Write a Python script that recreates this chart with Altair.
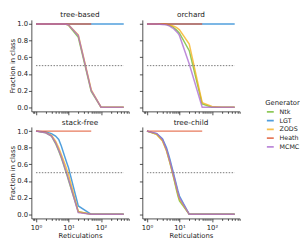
import altair as alt
import pandas as pd

# ---------------- data ----------------
x_vals = [1, 2, 3, 4, 5, 6, 7, 8, 9, 10, 20, 50, 100, 200, 500]
generators = ["Ntk", "LGT", "ZODS", "Heath", "MCMC"]
colors = ["#6fba2c", "#1f84d4", "#f5b01a", "#e0552e", "#ab6bd0"]
panels = ["tree-based", "orchard", "stack-free", "tree-child"]

tb_ntk = [1, 1, 1, 1, 1, 1, 1, 1, 0.995, 0.985, 0.84, 0.19, 0, 0, 0]
tb_lgt = [1, 1, 1, 1, 1, 1, 1, 1, 1, 1, 1, 1, 1, 1, 1]
tb_zods = [1, 1, 1, 1, 1, 1, 1, 1, 0.995, 0.99, 0.87, 0.21, 0, 0, 0]
tb_heath = [1, 1, 1, 1, 1, 1, 1, 1, 1, 1, 1, 1]
tb_mcmc = [1, 1, 1, 1, 1, 1, 1, 1, 0.995, 0.99, 0.86, 0.2, 0, 0, 0]

or_ntk = [1, 1, 1, 0.995, 0.985, 0.97, 0.95, 0.93, 0.91, 0.89, 0.68, 0.04, 0, 0, 0]
or_lgt = [1, 1, 1, 1, 1, 1, 1, 1, 1, 1, 1, 1, 1, 1, 1]
or_zods = [1, 1, 1, 0.998, 0.99, 0.98, 0.97, 0.96, 0.945, 0.93, 0.76, 0.055, 0.01, 0, 0]
or_heath = [1, 1, 1, 1, 1, 1, 1, 1, 1, 1, 1, 1]
or_mcmc = [1, 1, 0.995, 0.99, 0.975, 0.955, 0.935, 0.91, 0.89, 0.86, 0.52, 0, 0, 0, 0]

sf_ntk = [1, 0.98, 0.94, 0.85, 0.76, 0.68, 0.6, 0.53, 0.47, 0.41, 0.03, 0, 0, 0, 0]
sf_lgt = [1, 0.99, 0.97, 0.94, 0.9, 0.82, 0.74, 0.67, 0.61, 0.56, 0.1, 0, 0, 0, 0]
sf_zods = [1, 0.985, 0.95, 0.88, 0.8, 0.72, 0.65, 0.59, 0.53, 0.48, 0.03, 0, 0, 0, 0]
sf_heath = [1, 1, 1, 1, 1, 1, 1, 1, 1, 1, 1, 1]
sf_mcmc = [1, 0.98, 0.94, 0.86, 0.77, 0.69, 0.61, 0.54, 0.48, 0.42, 0.02, 0, 0, 0, 0]

tc_ntk = [1, 0.96, 0.89, 0.77, 0.63, 0.51, 0.4, 0.3, 0.22, 0.16, 0, 0, 0, 0, 0]
tc_lgt = [1, 0.97, 0.91, 0.8, 0.67, 0.55, 0.45, 0.36, 0.28, 0.22, 0, 0, 0, 0, 0]
tc_zods = [1, 0.96, 0.88, 0.76, 0.63, 0.51, 0.41, 0.32, 0.24, 0.18, 0, 0, 0, 0, 0]
tc_heath = [1, 1, 1, 1, 1, 1, 1, 1, 1, 1, 1, 1]
tc_mcmc = [1, 0.97, 0.9, 0.78, 0.65, 0.53, 0.43, 0.34, 0.26, 0.2, 0, 0, 0, 0, 0]

threshold = 0.5
y_ticks = [0.0, 0.2, 0.4, 0.6, 0.8, 1.0]
x_major = [1, 10, 100]
x_major_labels = ["10\u2070", "10\u00b9", "10\u00b2"]
x_minor = [0.8, 0.9, 2, 3, 4, 5, 6, 7, 8, 9, 20, 30, 40, 50, 60, 70, 80, 90,
           200, 300, 400, 500, 600, 700]

series = {
    "tree-based": [tb_ntk, tb_lgt, tb_zods, tb_heath, tb_mcmc],
    "orchard": [or_ntk, or_lgt, or_zods, or_heath, or_mcmc],
    "stack-free": [sf_ntk, sf_lgt, sf_zods, sf_heath, sf_mcmc],
    "tree-child": [tc_ntk, tc_lgt, tc_zods, tc_heath, tc_mcmc],
}

rows = []
for p in panels:
    for gi, (g, vals) in enumerate(zip(generators, series[p])):
        for xv, yv in zip(x_vals, vals):
            rows.append({"panel": p, "generator": g, "gi": gi, "x": xv, "y": yv})
df = pd.DataFrame(rows)

thr_df = pd.DataFrame({"x1": [x_vals[0]], "x2": [x_vals[-1]], "t": [threshold]})

FONT = "DejaVu Sans"
label_expr = " : ".join(
    f"datum.value == {v} ? '{l}'" for v, l in zip(x_major[:-1], x_major_labels[:-1])
) + f" : '{x_major_labels[-1]}'"

x_scale = alt.Scale(type="log", domain=[0.72, 710], nice=False)
y_scale = alt.Scale(domain=[-0.05, 1.05], nice=False, zero=False)

W, H = 100, 94


def make_panel(name, xlabels, ylabels):
    y_axis = alt.Axis(
        values=y_ticks, format=".1f", labels=ylabels, grid=False,
        title="Fraction in class" if ylabels else None,
        tickSize=3, labelPadding=1, titlePadding=1,
    )
    x_axis = alt.Axis(
        values=x_major, labelExpr=label_expr, labels=xlabels, grid=False,
        title="Reticulations" if xlabels else None, orient="bottom",
        tickSize=3.5, labelPadding=1.5, titlePadding=2,
    )
    x_minor_axis = alt.Axis(
        values=x_minor, labels=False, grid=False, domain=False, title=None,
        orient="bottom", tickSize=2,
    )
    lines = alt.Chart(df).transform_filter(alt.datum.panel == name).mark_line(
        strokeWidth=1.5, opacity=0.78
    ).encode(
        x=alt.X("x:Q", scale=x_scale, axis=x_axis),
        y=alt.Y("y:Q", scale=y_scale, axis=y_axis),
        color=alt.Color(
            "generator:N",
            scale=alt.Scale(domain=generators, range=colors),
            sort=generators,
            legend=alt.Legend(
                title="Generator", orient="none", legendX=240, legendY=81,
                symbolType="stroke", symbolStrokeWidth=1.8, symbolSize=50,
                symbolOpacity=0.78,
                titleFontWeight="normal", titleFontSize=7, labelFontSize=6.5,
                titleAnchor="middle", rowPadding=0, titlePadding=2,
                labelOffset=5,
                labelFont=FONT, titleFont=FONT, labelColor="#222", titleColor="#222",
            ),
        ),
        order=alt.Order("gi:Q"),
    )
    rule = alt.Chart(thr_df).mark_rule(
        strokeDash=[1.5, 1.5], color="#777", strokeWidth=1
    ).encode(
        x=alt.X("x1:Q", scale=x_scale, axis=x_minor_axis),
        x2="x2:Q",
        y=alt.Y("t:Q", scale=y_scale, axis=y_axis),
    )
    return alt.layer(lines, rule).resolve_axis(x="independent").properties(
        width=W, height=H,
        title=alt.TitleParams(name, fontSize=7.5, fontWeight="normal", font=FONT,
                              color="#222", offset=1),
    )


top = alt.hconcat(make_panel("tree-based", False, True),
                  make_panel("orchard", False, False), spacing=9)
bottom = alt.hconcat(make_panel("stack-free", True, True),
                     make_panel("tree-child", True, False), spacing=9)

chart = alt.vconcat(top, bottom, spacing=3).properties(
    padding=0
).configure_view(
    stroke=None
).configure_axis(
    labelFont=FONT, titleFont=FONT, labelFontSize=7, titleFontSize=7,
    titleFontWeight="normal", labelColor="#222", titleColor="#222",
    domainColor="#222", tickColor="#222", domainWidth=0.8, tickWidth=0.8,
)

chart.save("out.html", embed_options={"renderer": "svg", "actions": False})
